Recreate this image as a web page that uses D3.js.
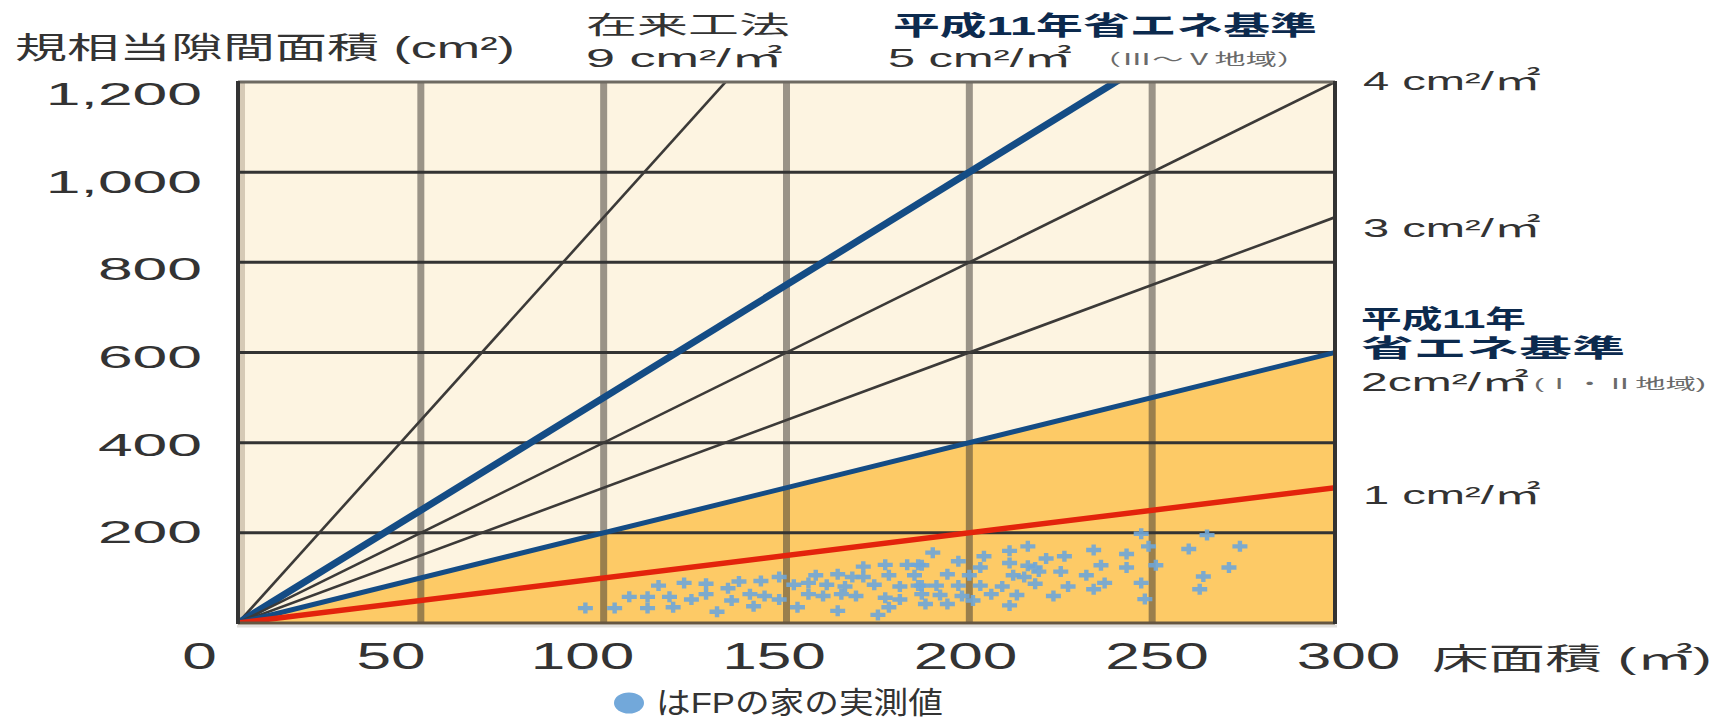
<!DOCTYPE html>
<html><head><meta charset="utf-8">
<script src="https://cdn.jsdelivr.net/npm/d3@7"></script>
<style>
html,body{margin:0;padding:0;background:#fff;}
svg{display:block;}
text{font-family:"Liberation Sans","Noto Sans CJK JP",sans-serif;}
</style></head><body>
<svg id="chart" width="1724" height="722"></svg>
<script>
// ---- data ----
const rates = [9, 5, 4, 3, 2, 1];              // cm²/㎡ reference lines
const fillRate = 2;                            // shaded area under this line
const xTickValues = [0, 50, 100, 150, 200, 250, 300];
const xTickLabels = ["0", "50", "100", "150", "200", "250", "300"];
const yTickValues = [200, 400, 600, 800, 1000, 1200];
const yTickLabels = ["200", "400", "600", "800", "1,000", "1,200"];
const floorArea = [95,103,112,119,131,141,153,164,175,178,
  107,112,118,124,128,135,140,144,148,156,160,165,169,177,181,
  115,122,128,134,137,143,148,152,156,161,166,174,181,186,
  158,164,168,171,178,185,171,177,183,186,
  190,187,197,204,211,216,221,226,234,243,236,243,203,211,216,218,225,232,194,200,212,215,219,
  187,191,197,203,209,218,227,237,247,234,187,192,198,206,213,223,201,188,194,211,
  247,265,260,274,249,251,271,264,263,248];
const gapArea = [33,33,33,35,25,37,35,27,18,35,
  58,58,58,52,64,50,64,60,52,64,60,64,60,56,52,
  83,89,87,77,92,93,102,85,89,85,81,85,81,83,
  106,108,102,102,106,106,125,129,129,129,
  156,128,137,148,160,170,143,148,162,153,128,123,123,133,127,123,114,106,108,106,106,102,114,
  83,83,83,83,81,87,81,89,89,75,64,62,60,64,62,60,50,42,42,39,
  198,195,164,170,170,128,123,103,75,53];
const rateLabels = [
  {rate: 9, lines: [["在来工法"], ["9 cm²/㎡"]]},
  {rate: 5, lines: [["平成11年省エネ基準"], ["5 cm²/㎡", "（Ⅲ～Ⅴ地域）"]]},
  {rate: 4, lines: [["4 cm²/㎡"]]},
  {rate: 3, lines: [["3 cm²/㎡"]]},
  {rate: 2, lines: [["平成11年"], ["省エネ基準"], ["2cm²/㎡", "(Ⅰ・Ⅱ地域)"]]},
  {rate: 1, lines: [["1 cm²/㎡"]]}
];
const yTitle = "規相当隙間面積 (cm²)";
const xTitle = "床面積 (㎡)";
const legendText = "はFPの家の実測値";

// ---- layout ----
const svg = d3.select("#chart");
const x = d3.scaleLinear().domain([0, 300]).range([238, 1335]);
const y = d3.scaleLinear().domain([0, 1200]).range([623, 82]);
const xLab = d3.scaleLinear().domain([0, 300]).range([199, 1348]);
const yLab = d3.scaleLinear().domain([0, 1200]).range([619, 93]);
const [X0, X1] = x.range(), [Y0, Y1] = y.range();
const TEXT = "#333", NAVY = "#0c2a4e", SUB = "#6a6a6a";
const FONT = "'Liberation Sans','Noto Sans CJK JP',sans-serif";

svg.append("defs").append("clipPath").attr("id", "plot")
  .append("rect").attr("x", X0).attr("y", Y1).attr("width", X1 - X0).attr("height", Y0 - Y1);

const plot = svg.append("g").attr("clip-path", "url(#plot)");
plot.append("rect").attr("x", X0).attr("y", Y1).attr("width", X1 - X0).attr("height", Y0 - Y1)
  .attr("fill", "#fdf4e1");
plot.append("path").attr("fill", "#fdca66")
  .attr("d", d3.line()([[x(0), y(0)], [x(300), y(fillRate * 300)], [x(300), y(0)]]));
plot.append("rect").attr("x", X0).attr("y", Y1).attr("width", 7).attr("height", Y0 - Y1)
  .attr("fill", "#d6cab6");
plot.selectAll(".vg").data(xTickValues.filter(d => d > 0 && d < 300)).join("line")
  .attr("x1", d => x(d)).attr("x2", d => x(d)).attr("y1", Y1).attr("y2", Y0)
  .attr("stroke", "rgb(64,58,52)").attr("stroke-opacity", 0.52).attr("stroke-width", 7);
plot.selectAll(".hg").data(yTickValues.filter(d => d < 1200)).join("line")
  .attr("x1", X0).attr("x2", X1).attr("y1", d => y(d)).attr("y2", d => y(d))
  .attr("stroke", "#333").attr("stroke-width", 3);
const plus = "M-7.5,-2.2H-2.2V-5.5H2.2V-2.2H7.5V2.2H2.2V5.5H-2.2V2.2H-7.5Z";
plot.selectAll(".pt").data(floorArea.map((f, i) => [f, gapArea[i]])).join("path")
  .attr("d", plus).attr("transform", d => `translate(${x(d[0])},${y(d[1])})`)
  .attr("fill", "#6fa6d8").attr("fill-opacity", 0.9);
const lineStyle = {9: ["#3c3a38", 2.6], 5: ["#144c85", 7], 4: ["#3c3a38", 2.6], 3: ["#3c3a38", 2.6],
  2: ["#144c85", 5], 1: ["#e3230c", 5.5]};
rates.forEach(r => {
  const xe = Math.min(300, 1200 / r) * 1.03;
  plot.append("path").attr("fill", "none")
    .attr("stroke", lineStyle[r][0]).attr("stroke-width", lineStyle[r][1])
    .attr("d", d3.line()([[x(0), y(0)], [x(xe), y(r * xe)]]));
});
svg.append("line").attr("x1", X0).attr("x2", X1).attr("y1", Y1).attr("y2", Y1).attr("stroke", "#6e6a62").attr("stroke-width", 3);
svg.append("line").attr("x1", X0 - 1).attr("x2", X1 + 2).attr("y1", Y0 + 3).attr("y2", Y0 + 3).attr("stroke", "#e2e0dc").attr("stroke-width", 3);
svg.append("line").attr("x1", X0).attr("x2", X1).attr("y1", Y0).attr("y2", Y0).attr("stroke", "#655640").attr("stroke-width", 3);
svg.append("line").attr("x1", X0).attr("x2", X0).attr("y1", Y1 - 1).attr("y2", Y0 + 1).attr("stroke", "#333").attr("stroke-width", 4);
svg.append("line").attr("x1", X1).attr("x2", X1).attr("y1", Y1 - 1).attr("y2", Y0 + 1).attr("stroke", "#333").attr("stroke-width", 4);

// ---- stretched text helper ----
function stretched(parent, str, px, py, width, fs, fill, weight) {
  const g = parent.append("g");
  const t = g.append("text").attr("font-size", fs).attr("fill", fill)
    .attr("font-family", FONT).attr("font-weight", weight || 400).text(str);
  const w = t.node().getComputedTextLength();
  g.attr("transform", `translate(${px},${py}) scale(${width / w},1)`);
  return g;
}
const xAxis = svg.append("g").attr("transform", "translate(0,669)")
  .call(d3.axisBottom(xLab).tickValues(xTickValues).tickSize(0).tickFormat((d, i) => xTickLabels[i]));
xAxis.select(".domain").remove();
xAxis.selectAll("text").attr("y", 0).attr("dy", 0).attr("font-size", 37).attr("fill", TEXT)
  .attr("font-family", FONT).attr("transform", "scale(1.68,1)");
const yAxis = svg.append("g").attr("transform", "translate(202,0)")
  .call(d3.axisLeft(yLab).tickValues(yTickValues).tickSize(0).tickPadding(0).tickFormat((d, i) => yTickLabels[i]));
yAxis.select(".domain").remove();
yAxis.selectAll("text").attr("x", 0).attr("dy", "0.36em").attr("font-size", 32).attr("fill", TEXT)
  .attr("font-family", FONT).attr("transform", "scale(1.95,1)");

stretched(svg, yTitle, 15, 58, 500, 30, TEXT);
stretched(svg, xTitle, 1432, 669, 280, 30, TEXT);

const labelLayout = {
  9: [[586, 34, 204, 25, TEXT, 400], [586, 67, 197, 25, TEXT, 400]],
  5: [[893, 35, 424, 26, NAVY, 700], [888, 67, 184, 25, TEXT, 400, 1090, 65, 218, 16, SUB]],
  4: [[1363, 90, 178, 26, TEXT, 400]],
  3: [[1363, 237, 178, 26, TEXT, 400]],
  2: [[1361, 328, 165, 25, NAVY, 700], [1361, 357, 264, 25, NAVY, 700], [1361, 391, 168, 25, TEXT, 400, 1534, 389, 172, 15, SUB]],
  1: [[1363, 504, 178, 26, TEXT, 400]]
};
rateLabels.forEach(lb => {
  lb.lines.forEach((ln, i) => {
    const L = labelLayout[lb.rate][i];
    stretched(svg, ln[0], L[0], L[1], L[2], L[3], L[4], L[5]);
    if (ln[1]) stretched(svg, ln[1], L[6], L[7], L[8], L[9], L[10], 400);
  });
});
svg.append("ellipse").attr("cx", 629).attr("cy", 703).attr("rx", 15).attr("ry", 10.5).attr("fill", "#72a8da");
stretched(svg, legendText, 656, 713, 287, 30, TEXT);
</script>
</body></html>
